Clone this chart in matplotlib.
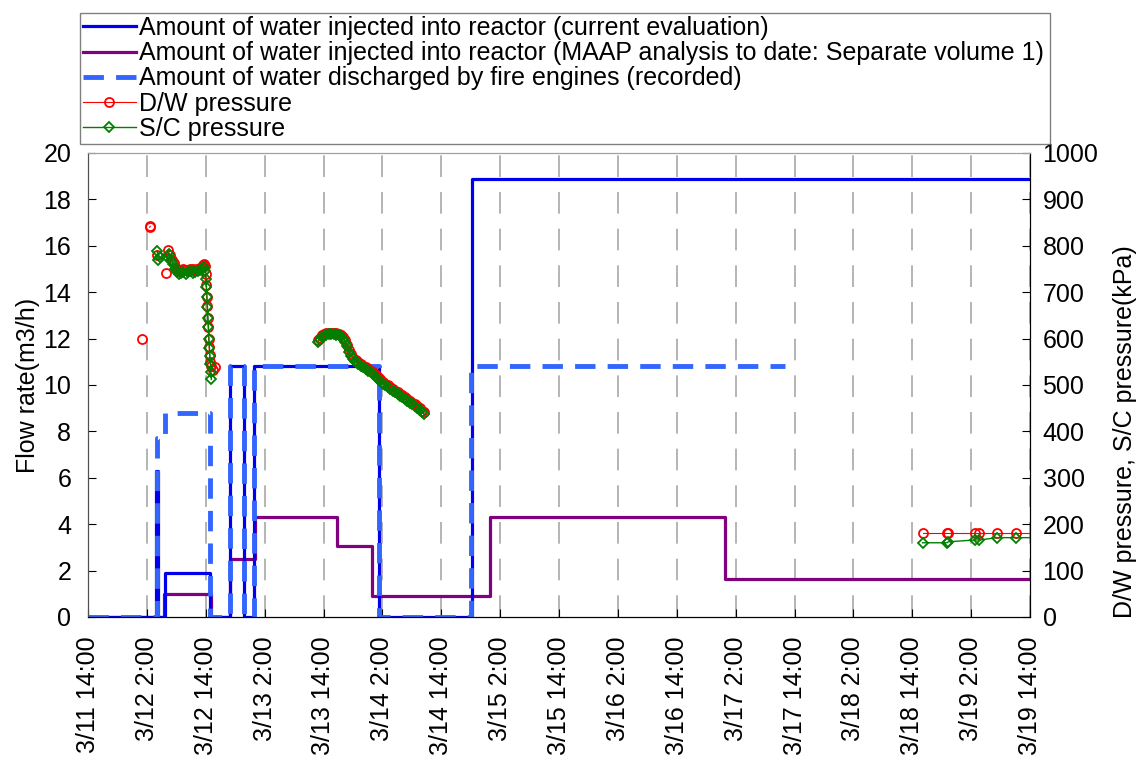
import matplotlib
matplotlib.use('Agg')
import matplotlib.pyplot as plt
import numpy as np

plt.rcParams['font.family'] = ['Liberation Sans', 'DejaVu Sans']
plt.rcParams['font.size'] = 18

nan = np.nan

# x axis: hours counted from 3/11 14:00
tick_hours = [0, 12, 24, 36, 48, 60, 72, 84, 96, 108, 120, 132, 144, 156, 168, 180, 192]
tick_labels = ['3/11 14:00', '3/12 2:00', '3/12 14:00', '3/13 2:00', '3/13 14:00',
               '3/14 2:00', '3/14 14:00', '3/15 2:00', '3/15 14:00', '3/16 2:00',
               '3/16 14:00', '3/17 2:00', '3/17 14:00', '3/18 2:00', '3/18 14:00',
               '3/19 2:00', '3/19 14:00']

# flow rates (m3/h), step changes
eval_t = [0, 13.9, 14.2, 15.7, 24.9, 28.9, 31.7, 33.8, 59.3, 78.2, 192]
eval_v = [0, 6.3, 0, 1.9, 0, 10.8, 0, 10.8, 0, 18.9, 18.9]

maap_t = [0, 15.5, 25.0, 28.9, 34.0, 50.7, 57.8, 81.9, 129.8, 192]
maap_v = [0, 1.0, 0, 2.5, 4.32, 3.05, 0.92, 4.32, 1.62, 1.62]

fire_t = [0, 14.0, 15.7, 24.9, 28.9, 31.7, 33.8, 59.3, 78.1, 142.1]
fire_v = [0, 7.7, 8.8, 0, 10.8, 0, 10.8, 0, 10.8, 10.8]

# pressures (kPa)
dw1_h = [11.0, nan, 12.55, 12.7, nan, 14.0, nan, 15.9, nan, 16.3, 16.7, 17.1, 17.5, 17.9,
         18.3, 18.8, 19.3, 19.8, 20.3, 20.8, 21.3, 21.8, 22.3, 22.8, 23.2, 23.5, 23.7,
         23.9, 24.0, 24.1, 24.2, 24.3, 24.4, 24.5, 24.6, 24.7, 24.8, 24.9, 25.1, 25.4, 25.9]
dw1_v = [600, nan, 840, 842, nan, 780, nan, 741, nan, 791, 780, 770, 762, 752, 748, 746,
         750, 748, 746, 749, 751, 748, 750, 752, 755, 758, 760, 756, 740, 715, 690, 670,
         645, 625, 600, 582, 565, 550, 540, 532, 539]

sc1_h = [14.1, 14.3, 14.6, nan, 16.1, 16.5, 16.9, 17.3, 17.7, 18.1, 18.5, 18.9, 19.4,
         19.9, 20.4, 20.9, 21.4, 21.9, 22.4, 22.9, 23.3, 23.6, 23.9, 24.05, 24.15, 24.25,
         24.35, 24.45, 24.55, 24.65, 24.75, 24.85, 24.95, 25.05, 25.15]
sc1_v = [789, 769, 776, nan, 775, 782, 770, 760, 750, 744, 740, 741, 744, 740, 743, 745,
         742, 744, 746, 748, 751, 754, 745, 728, 712, 690, 668, 645, 624, 600, 580, 562,
         545, 528, 512]

p2_h = [46.9, 47.3, 47.7, 48.1, 48.6, 49.1, 49.6, 50.1, 50.6, 51.1, 51.6, 52.0, 52.4,
        52.8, 53.2, 53.6, 54.1, 54.6, 55.1, 55.6, 56.1, 56.6, 57.1, 57.6, 58.1, 58.6,
        59.1, 59.6, 60.1, 60.6, 61.1, 61.6, 62.1, 62.6, 63.1, 63.6, 64.1, 64.6, 65.1,
        65.6, 66.1, 66.6, 67.1, 67.6, 68.1, 68.5]
dw2_v = [596, 602, 607, 610, 612, 613, 613, 612, 611, 610, 608, 603, 597, 587, 576, 567,
         559, 553, 549, 545, 542, 538, 535, 531, 527, 522, 517, 512, 507, 503, 499, 495,
         492, 488, 485, 481, 478, 474, 470, 466, 462, 458, 454, 450, 445, 441]
sc2_v = [593, 598, 603, 606, 608, 609, 609, 609, 608, 607, 605, 600, 593, 583, 572, 563,
         555, 549, 545, 541, 538, 534, 531, 527, 523, 518, 513, 508, 503, 499, 495, 491,
         488, 484, 481, 477, 474, 470, 466, 462, 458, 454, 450, 446, 441, 437]

p3_h = [170.1, 175.1, 175.3, 180.8, 181.7, 185.3, 189.2, 194.0]
dw3_v = [180, 180, 180, 180, 180, 180, 180, 180]
sc3_v = [160, 160, 162, 166, 166, 171, 171, 171]

fig = plt.figure(figsize=(11.4, 7.57), dpi=100)
ax = fig.add_axes([88 / 1140, 1 - 617 / 757, 942 / 1140, 464 / 757])

ax.grid(axis='x', color='#a8a8a8', linewidth=1.2, linestyle=(0, (13, 9)))
h_maap, = ax.step(maap_t, maap_v, where='post', color='#800080', lw=2.3)
h_eval, = ax.step(eval_t, eval_v, where='post', color='#0000ee', lw=2.3)
h_fire, = ax.step(fire_t, fire_v, where='post', color='#3366ff', lw=3.5,
                  linestyle=(0, (4.2, 2.5)))

ax.set_xlim(0, 192)
ax.set_ylim(0, 20)
ax.set_xticks(tick_hours)
ax.set_xticklabels(tick_labels, rotation=90)
ax.set_yticks(np.arange(0, 21, 2))
ax.tick_params(axis='x', direction='in', length=6, pad=14)
ax.tick_params(axis='y', direction='in', length=6, pad=12)
ax.set_ylabel('Flow rate(m3/h)')
ax.yaxis.set_label_coords(-0.051, 0.5)

ax2 = ax.twinx()
dw_style = dict(color='red', lw=0.8, marker='o', ms=6.5, mfc='none', mec='red', mew=1.3)
sc_style = dict(color='green', lw=1.0, marker='D', ms=4.8, mfc='none', mec='green', mew=1.3)
h_dw, = ax2.plot(dw1_h, dw1_v, **dw_style)
ax2.plot(sc1_h, sc1_v, **sc_style)
ax2.plot(p2_h, dw2_v, **dw_style)
ax2.plot(p2_h, sc2_v, **sc_style)
ax2.plot(p3_h, dw3_v, **dw_style)
h_sc, = ax2.plot(p3_h, sc3_v, **sc_style)
ax2.set_ylim(0, 1000)
ax2.set_yticks(np.arange(0, 1001, 100))
ax2.tick_params(axis='y', direction='in', length=6, pad=9)
ax2.set_ylabel('D/W pressure, S/C pressure(kPa)')
ax2.yaxis.set_label_coords(1.088, 0.40)

for a in (ax, ax2):
    a.spines['top'].set_color('#a0a0a0')
    a.spines['left'].set_color('#505050')
    a.spines['right'].set_color('black')
    a.spines['bottom'].set_color('black')

handles = [h_eval, h_maap, h_fire, h_dw, h_sc]
labels = ['Amount of water injected into reactor (current evaluation)',
          'Amount of water injected into reactor (MAAP analysis to date: Separate volume 1)',
          'Amount of water discharged by fire engines (recorded)',
          'D/W pressure',
          'S/C pressure']
leg = fig.legend(handles, labels, loc='upper left', mode='expand',
                 bbox_to_anchor=(80 / 1140, 1 - 147 / 757, 970 / 1140, 134 / 757),
                 fontsize=18, frameon=True, fancybox=False, edgecolor='#606060',
                 borderpad=0.12, labelspacing=0.05, handlelength=2.1,
                 handletextpad=0.15, borderaxespad=0, numpoints=1)
leg.get_frame().set_linewidth(1.0)

fig.savefig('out.png', dpi=100)
